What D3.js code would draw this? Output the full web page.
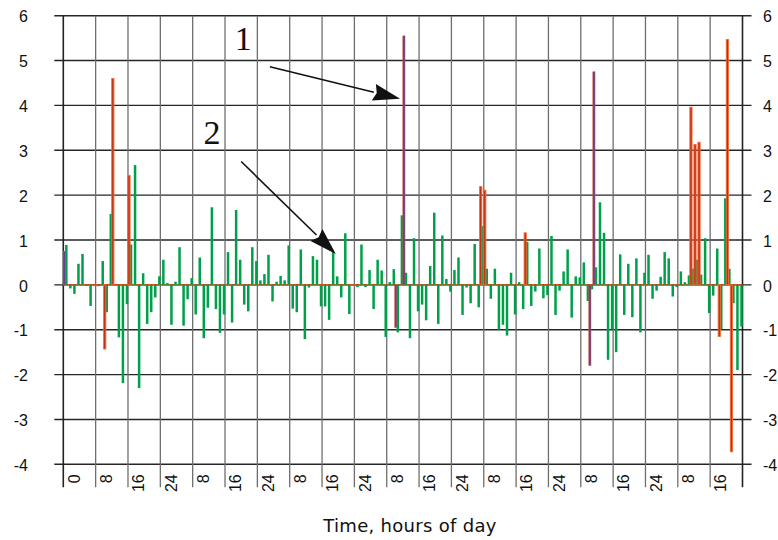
<!DOCTYPE html>
<html>
<head>
<meta charset="utf-8">
<script src="https://cdn.jsdelivr.net/npm/d3@7/dist/d3.min.js"></script>
<style>
    body { margin: 0; background: #fff; }
    text { font-family: "Liberation Sans", Arial, sans-serif; }
</style>
</head>
<body>
<svg id="chart" width="778" height="540"></svg>
<script>
// hourly values over one week (168 hours)
var hours = d3.range(168);

var greenValues = [
    0.89, -0.08, -0.2, 0.47, 0.69, -0.02, -0.47, 0, -0.03, 0.53, -0.61, 1.58, 0, -1.17, -2.19, -0.43,
    0.9, 2.67, -2.3, 0.26, -0.87, -0.61, -0.28, 0.19, 0.56, 0.04, -0.89, 0.07, 0.84, -0.91, -0.32, 0.15,
    -0.66, 0.61, -1.19, -0.51, 1.73, -0.54, -1.07, -0.66, 0.73, -0.84, 1.67, 0.56, -0.44, -0.59, 0.84, 0.53,
    0.1, 0.24, 0.67, -0.37, 0.07, 0.2, 0.1, 0.88, -0.53, -0.61, 0.79, -1.21, -0.06, 0.64, 0.56, -0.48,
    -0.48, -0.78, 0.73, 0.19, -0.28, 1.15, -0.65, 0, -0.05, 0.9, -0.05, 0.33, -0.54, 0.56, 0.32, -1.16,
    0.06, 0.35, -1.06, 1.55, 0.27, -1.19, 1.04, -0.59, -0.44, -0.79, 0.42, 1.61, -0.87, 1.1, 0.13, -0.15,
    0.33, 0.61, -0.67, -0.06, -0.41, 0.91, -0.5, 1.31, 0.36, -0.31, 0.36, -1.0, -0.89, -1.13, 0.27, -0.66,
    0.06, -0.54, 0.96, -0.47, -0.15, 0.81, -0.3, -0.23, 1.09, -0.67, -0.13, 0.3, 0.79, -0.73, 0.19, 0.17,
    0.5, -0.36, -0.1, 0.39, 1.84, 1.16, -1.67, -0.99, -1.5, 0.68, -0.67, 0.47, -0.72, 0.59, -1.06, 0.27,
    0.67, -0.31, -0.13, 0.18, 0.73, 0.59, -0.26, -0.05, 0.3, 0.06, 0.21, 0.36, 0.56, 0.23, 1.04, -0.63,
    -0.24, 0.81, -0.99, 1.93, 0.36, -0.41, -1.9, -0.93
];

var redHours = [10, 12, 16, 103, 104, 114, 155, 156, 157, 162, 164, 165];
var redValues = [-1.43, 4.6, 2.44, 2.19, 2.11, 1.16, 3.96, 3.13, 3.18, -1.15, 5.47, -3.72];

var purpleHours = [0, 82, 84, 130, 131];
var purpleValues = [0.75, -0.95, 5.55, -1.8, 4.75];

var tickHours = d3.range(0, 169, 8);
var tickLabels = ["0", "8", "16", "24", "8", "16", "24", "8", "16", "24", "8", "16", "24",
    "8", "16", "24", "8", "16", "24", "8", "16"];
var yTicks = d3.range(-4, 7);

var svg = d3.select("#chart");

var plotLeft = 63.3, plotRight = 742.5, plotTop = 15.7, plotBottom = 464.3;

var xTime = d3.scaleLinear().domain([0, 168]).range([plotLeft, plotRight]);
var xBand = d3.scaleBand().domain(hours).range([plotLeft, plotRight]).padding(0);
// inside each hour: event bars on the left, regular bars on the right
var xSub = d3.scaleBand().domain(["event", "regular"]).range([0, xBand.bandwidth()]);
var y = d3.scaleLinear().domain([-4, 6]).range([plotBottom, plotTop]);

// horizontal grid lines (with outside ticks on both sides)
svg.append("g")
    .selectAll("line")
    .data(yTicks)
    .enter()
    .append("line")
    .attr("x1", plotLeft - 9)
    .attr("x2", plotRight + 9)
    .attr("y1", function(d){ return y(d); })
    .attr("y2", function(d){ return y(d); })
    .style("stroke", "#262626")
    .style("stroke-width", 1.4);

// vertical grid lines, running down as ticks below the axis
svg.append("g")
    .selectAll("line")
    .data(tickHours)
    .enter()
    .append("line")
    .attr("x1", function(d){ return xTime(d); })
    .attr("x2", function(d){ return xTime(d); })
    .attr("y1", plotTop)
    .attr("y2", plotBottom + 23)
    .style("stroke", function(d){ return (d == 0 || d == 168) ? "#222" : "#6e6e6e"; })
    .style("stroke-width", function(d){ return (d == 0 || d == 168) ? 1.6 : 1.3; });

// y labels
svg.append("g")
    .selectAll("text")
    .data(yTicks)
    .enter()
    .append("text")
    .attr("x", 28)
    .attr("y", function(d){ return y(d); })
    .attr("dy", "0.42em")
    .style("text-anchor", "end")
    .style("font-size", "16px")
    .style("fill", "#111")
    .text(function(d){ return d; });

svg.append("g")
    .selectAll("text")
    .data(yTicks)
    .enter()
    .append("text")
    .attr("x", 763)
    .attr("y", function(d){ return y(d); })
    .attr("dy", "0.42em")
    .style("text-anchor", "start")
    .style("font-size", "16px")
    .style("fill", "#111")
    .text(function(d){ return d; });

// zero line of the event series
svg.append("line")
    .attr("x1", plotLeft)
    .attr("x2", plotRight)
    .attr("y1", y(0))
    .attr("y2", y(0))
    .style("stroke", "#e2521e")
    .style("stroke-width", 1.6)
    .style("stroke-dasharray", "3,1.04");

// regular bars
svg.append("g")
    .selectAll("rect")
    .data(hours)
    .enter()
    .append("rect")
    .attr("x", function(d){ return xBand(d) + xSub("regular") + xSub.bandwidth() / 2 - 1.25; })
    .attr("width", 2.5)
    .attr("y", function(d){ return y(Math.max(0, greenValues[d])); })
    .attr("height", function(d){ return Math.abs(y(greenValues[d]) - y(0)); })
    .style("fill", "#00a04a");

// event bars
function drawEvents(hrs, vals, fill, stroke, sw) {
    svg.append("g")
        .selectAll("rect")
        .data(hrs)
        .enter()
        .append("rect")
        .attr("x", function(d){ return xBand(d) + xSub("event") + xSub.bandwidth() / 2 - 1.1; })
        .attr("width", 2.2)
        .attr("y", function(d, i){ return y(Math.max(0, vals[i])); })
        .attr("height", function(d, i){ return Math.abs(y(vals[i]) - y(0)); })
        .style("fill", fill)
        .style("stroke", stroke)
        .style("stroke-width", sw);
}
drawEvents(redHours, redValues, "#bf2f10", "#f06a38", 0.9);
drawEvents(purpleHours, purpleValues, "#6b3f8e", "#c9583a", 0.5);

// x labels, rotated
svg.append("g")
    .selectAll("text")
    .data(tickLabels)
    .enter()
    .append("text")
    .attr("transform", function(d, i){
        return "translate(" + (xTime(tickHours[i]) + 10.5) + "," + (plotBottom + 10) + ") rotate(-90)";
    })
    .attr("dy", "0.36em")
    .style("text-anchor", "end")
    .style("font-size", "16px")
    .style("fill", "#111")
    .text(function(d){ return d; });

svg.append("text")
    .attr("x", 410)
    .attr("y", 532)
    .style("text-anchor", "middle")
    .style("font-family", "DejaVu Sans, sans-serif")
    .style("font-size", "18px")
    .style("letter-spacing", "0.3px")
    .style("fill", "#111")
    .text("Time, hours of day");

// annotations: label + arrow
function arrow(t0, v0, t1, v1) {
    var x0 = xTime(t0), y0 = y(v0), x1 = xTime(t1), y1 = y(v1);
    var len = Math.sqrt((x1 - x0) * (x1 - x0) + (y1 - y0) * (y1 - y0));
    var ux = (x1 - x0) / len, uy = (y1 - y0) / len;
    var bx = x1 - ux * 27, by = y1 - uy * 27;
    svg.append("line")
        .attr("x1", x0).attr("y1", y0)
        .attr("x2", bx).attr("y2", by)
        .style("stroke", "#111")
        .style("stroke-width", 1.6);
    svg.append("path")
        .attr("d", "M" + x1 + "," + y1 +
            "L" + (bx - uy * 8.5) + "," + (by + ux * 8.5) +
            "L" + (bx + ux * 3) + "," + (by + uy * 3) +
            "L" + (bx + uy * 8.5) + "," + (by - ux * 8.5) + "Z")
        .style("fill", "#111");
}
arrow(51.1, 4.86, 83.3, 4.15);
arrow(44.0, 2.75, 67.4, 0.69);

svg.append("text")
    .attr("x", xTime(44.5))
    .attr("y", y(5.24))
    .style("text-anchor", "middle")
    .style("font-family", "Liberation Serif, Times New Roman, serif")
    .style("font-size", "34px")
    .style("fill", "#111")
    .text("1");

svg.append("text")
    .attr("x", xTime(36.8))
    .attr("y", y(3.14))
    .style("text-anchor", "middle")
    .style("font-family", "Liberation Serif, Times New Roman, serif")
    .style("font-size", "34px")
    .style("fill", "#111")
    .text("2");
</script>
</body>
</html>
